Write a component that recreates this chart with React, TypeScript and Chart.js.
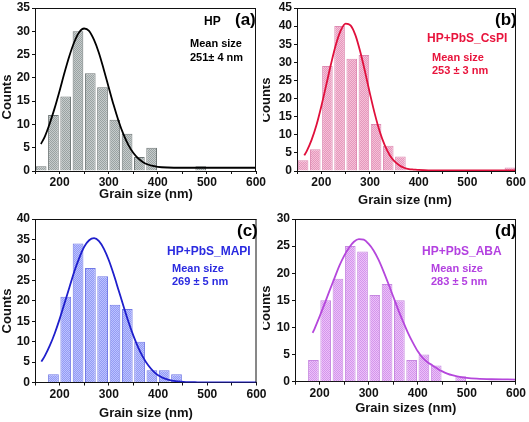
import React, { useEffect, useRef } from 'react';
import { Chart, registerables } from 'chart.js';
Chart.register(...registerables);

// ---------- data ----------
const binsA = [162.5, 187.5, 212.5, 237.5, 262.5, 287.5, 312.5, 337.5, 362.5, 387.5, 487.5];
const countsA = [1, 12, 16, 30, 21, 18, 11, 8, 3, 5, 1];
const fitXA = [162, 170, 180, 190, 200, 210, 220, 230, 240, 250, 260, 270, 280, 290, 300, 310, 320, 330, 340, 350, 360, 370, 380, 390, 400, 420, 450, 500, 550, 600];
const fitYA = [5.8, 7.4, 10.2, 13.5, 17.2, 21.1, 24.7, 27.7, 29.8, 30.6, 30.1, 28.2, 25.4, 21.8, 18.0, 14.2, 10.8, 7.9, 5.6, 3.9, 2.7, 1.9, 1.4, 1.1, 0.9, 0.75, 0.7, 0.7, 0.7, 0.7];

const binsB = [162.5, 187.5, 212.5, 237.5, 262.5, 287.5, 312.5, 337.5, 362.5, 587.5];
const countsB = [3, 6, 29, 40, 31, 32, 13, 7, 4, 1];
const fitXB = [165, 170, 180, 190, 200, 210, 220, 230, 240, 250, 260, 270, 280, 290, 300, 310, 320, 330, 340, 350, 360, 370, 380, 390, 400, 420, 450, 500, 550, 600];
const fitYB = [4.3, 5.5, 8.6, 12.7, 17.9, 23.7, 29.6, 34.9, 38.8, 40.7, 40.2, 37.5, 32.9, 27.3, 21.3, 15.7, 10.9, 7.2, 4.5, 2.7, 1.6, 0.9, 0.5, 0.4, 0.3, 0.2, 0.2, 0.2, 0.2, 0.2];

const binsC = [187.5, 212.5, 237.5, 262.5, 287.5, 312.5, 337.5, 362.5, 387.5, 412.5, 437.5];
const countsC = [2, 21, 34, 28, 26, 19, 18, 10, 3, 3, 2];
const fitXC = [163, 170, 180, 190, 200, 210, 220, 230, 240, 250, 260, 270, 280, 290, 300, 310, 320, 330, 340, 350, 360, 370, 380, 390, 400, 420, 440, 460, 480, 500, 550, 600];
const fitYC = [5.1, 6.5, 9.0, 12.0, 15.5, 19.4, 23.3, 27.2, 30.5, 33.2, 34.8, 35.3, 34.6, 32.7, 29.9, 26.4, 22.5, 18.6, 14.8, 11.4, 8.5, 6.1, 4.2, 2.8, 1.8, 0.7, 0.25, 0.1, 0.05, 0.02, 0, 0];

const binsD = [187.5, 212.5, 237.5, 262.5, 287.5, 312.5, 337.5, 362.5, 387.5, 412.5, 437.5, 487.5];
const countsD = [4, 15, 19, 25, 24, 16, 18, 15, 4, 5, 3, 1];
const fitXD = [186, 190, 200, 210, 220, 230, 240, 250, 260, 270, 280, 290, 300, 310, 320, 330, 340, 350, 360, 370, 380, 390, 400, 410, 420, 430, 440, 450, 460, 470, 480, 500, 520, 550, 600];
const fitYD = [9.0, 9.8, 12.0, 14.3, 16.7, 19.0, 21.3, 23.2, 24.7, 25.8, 26.3, 26.2, 25.4, 24.2, 22.5, 20.4, 18.1, 15.7, 13.3, 11.1, 9.0, 7.2, 5.6, 4.4, 3.6, 3.0, 2.4, 1.9, 1.5, 1.2, 1.0, 0.7, 0.55, 0.45, 0.4];

const xMin = 150;
const xMax = 600;
const xStep = 50;
const yStep = 5;

const FONT = "'Liberation Sans', Arial, Helvetica, sans-serif";

type Txt = { text: string; x: number; y: number; size: number; color: string };

type PanelCfg = {
  canvas: { left: number; top: number; w: number; h: number };
  area: { left: number; right: number; top: number; bottom: number };
  yMax: number;
  bins: number[];
  counts: number[];
  fitX: number[];
  fitY: number[];
  pat: [string, string];
  barBorder: string;
  curve: string;
  axis: string;
  xTitle: { text: string; x: number; y: number };
  yTitle: { x: number; y: number };
  texts: Txt[];
};

const panels: PanelCfg[] = [
  {
    canvas: { left: 0, top: 0, w: 270, h: 211 },
    area: { left: 35, right: 256, top: 7.5, bottom: 171 },
    yMax: 35,
    bins: binsA, counts: countsA, fitX: fitXA, fitY: fitYA,
    pat: ['#C6CCCC', '#9AA2A2'], barBorder: '#6E7676', curve: '#000000', axis: '#111111',
    xTitle: { text: 'Grain size (nm)', x: 146, y: 194 },
    yTitle: { x: 7, y: 97 },
    texts: [
      { text: 'HP', x: 204, y: 22, size: 12, color: '#000' },
      { text: '(a)', x: 235, y: 20, size: 17, color: '#000' },
      { text: 'Mean size', x: 190, y: 43.5, size: 11, color: '#000' },
      { text: '251\u00b1 4 nm', x: 190, y: 57.5, size: 11, color: '#000' },
    ],
  },
  {
    canvas: { left: 0, top: 211, w: 270, h: 211 },
    area: { left: 35, right: 256.5, top: 218.5, bottom: 382.5 },
    yMax: 40,
    bins: binsC, counts: countsC, fitX: fitXC, fitY: fitYC,
    pat: ['#BCC2FF', '#939BF4'], barBorder: '#7078E6', curve: '#1F1FCC', axis: '#111111',
    xTitle: { text: 'Grain size (nm)', x: 146, y: 413.5 },
    yTitle: { x: 7.5, y: 311 },
    texts: [
      { text: '(c)', x: 237, y: 231, size: 17, color: '#000' },
      { text: 'HP+PbS_MAPI', x: 167, y: 252, size: 12, color: '#2B2BE0' },
      { text: 'Mean size', x: 172, y: 269, size: 11, color: '#2B2BE0' },
      { text: '269 \u00b1 5 nm', x: 172, y: 282, size: 11, color: '#2B2BE0' },
    ],
  },
  {
    canvas: { left: 263, top: 0, w: 266, h: 211 },
    area: { left: 297, right: 517, top: 7.5, bottom: 171 },
    yMax: 45,
    bins: binsB, counts: countsB, fitX: fitXB, fitY: fitYB,
    pat: ['#F5C0D8', '#E598BC'], barBorder: '#DE8AB2', curve: '#E0103C', axis: '#111111',
    xTitle: { text: 'Grain size (nm)', x: 405, y: 200 },
    yTitle: { x: 266, y: 100 },
    texts: [
      { text: '(b)', x: 495, y: 20, size: 17, color: '#000' },
      { text: 'HP+PbS_CsPI', x: 427, y: 39, size: 12, color: '#E8143C' },
      { text: 'Mean size', x: 432, y: 58, size: 11, color: '#E8143C' },
      { text: '253 \u00b1 3 nm', x: 432, y: 71, size: 11, color: '#E8143C' },
    ],
  },
  {
    canvas: { left: 263, top: 211, w: 266, h: 211 },
    area: { left: 295, right: 517, top: 218.5, bottom: 381.7 },
    yMax: 30,
    bins: binsD, counts: countsD, fitX: fitXD, fitY: fitYD,
    pat: ['#ECC0F8', '#D396EC'], barBorder: '#C688E0', curve: '#B547DC', axis: '#111111',
    xTitle: { text: 'Grain sizes (nm)', x: 405.7, y: 408.5 },
    yTitle: { x: 266, y: 308 },
    texts: [
      { text: '(d)', x: 495, y: 231, size: 17, color: '#000' },
      { text: 'HP+PbS_ABA', x: 422, y: 252, size: 12, color: '#B341E0' },
      { text: 'Mean size', x: 431, y: 269, size: 11, color: '#B341E0' },
      { text: '283 \u00b1 5 nm', x: 431, y: 282, size: 11, color: '#B341E0' },
    ],
  },
];

function makePattern(c1: string, c2: string): CanvasPattern | string {
  const pc = document.createElement('canvas');
  pc.width = 2;
  pc.height = 2;
  const g = pc.getContext('2d');
  if (!g) return c1;
  g.fillStyle = c1;
  g.fillRect(0, 0, 2, 2);
  g.fillStyle = c2;
  g.fillRect(0, 0, 1, 1);
  g.fillRect(1, 1, 1, 1);
  const ctx = document.createElement('canvas').getContext('2d');
  const p = ctx ? ctx.createPattern(pc, 'repeat') : null;
  return p || c1;
}

function Panel({ cfg }: { cfg: PanelCfg }) {
  const ref = useRef<HTMLCanvasElement | null>(null);
  useEffect(() => {
    const cv = ref.current;
    if (!cv) return;
    const { canvas: c, area: a } = cfg;
    const yW = a.left - c.left;
    const xH = c.top + c.h - a.bottom;
    const decor = {
      id: 'decor',
      afterDraw(chart: any) {
        const ctx = chart.ctx;
        const ca = chart.chartArea;
        ctx.save();
        ctx.strokeStyle = cfg.axis;
        ctx.lineWidth = 1;
        ctx.beginPath();
        ctx.moveTo(ca.left, ca.top + 0.5);
        ctx.lineTo(ca.right, ca.top + 0.5);
        ctx.moveTo(ca.right - 0.5, ca.top);
        ctx.lineTo(ca.right - 0.5, ca.bottom);
        ctx.stroke();
        // axis titles
        ctx.fillStyle = '#111';
        ctx.font = `bold 13px ${FONT}`;
        ctx.textAlign = 'center';
        ctx.textBaseline = 'middle';
        ctx.fillText(cfg.xTitle.text, cfg.xTitle.x - c.left, cfg.xTitle.y - c.top);
        ctx.save();
        ctx.translate(cfg.yTitle.x - c.left, cfg.yTitle.y - c.top);
        ctx.rotate(-Math.PI / 2);
        ctx.fillText('Counts', 0, 0);
        ctx.restore();
        // annotations
        ctx.textAlign = 'left';
        for (const t of cfg.texts) {
          ctx.fillStyle = t.color;
          ctx.font = `bold ${t.size}px ${FONT}`;
          ctx.fillText(t.text, t.x - c.left, t.y - c.top);
        }
        ctx.restore();
      },
    };
    const tickFont = { family: FONT, size: 12, weight: 'bold' as const, lineHeight: 1 };
    const chart = new Chart(cv, {
      type: 'bar',
      data: {
        datasets: [
          {
            type: 'line' as const,
            data: cfg.fitX.map((x, i) => ({ x, y: cfg.fitY[i] })),
            borderColor: cfg.curve,
            borderWidth: 1.8,
            pointRadius: 0,
            cubicInterpolationMode: 'monotone' as const,
            fill: false,
            order: 0,
          },
          {
            type: 'bar' as const,
            data: cfg.bins.map((x, i) => ({ x, y: cfg.counts[i] })),
            backgroundColor: makePattern(cfg.pat[0], cfg.pat[1]) as any,
            borderColor: cfg.barBorder,
            borderWidth: 1,
            barPercentage: 0.87,
            categoryPercentage: 1,
            order: 1,
          },
        ] as any,
      },
      options: {
        responsive: false,
        animation: false,
        devicePixelRatio: 1,
        layout: {
          padding: { left: 0, top: a.top - c.top, right: c.left + c.w - a.right, bottom: 0 },
        },
        plugins: { legend: { display: false }, tooltip: { enabled: false } },
        scales: {
          x: {
            type: 'linear',
            min: xMin,
            max: xMax,
            offset: false,
            afterFit: (s: any) => { s.height = xH; },
            ticks: {
              stepSize: xStep,
              autoSkip: false,
              maxRotation: 0,
              padding: 3,
              color: '#111',
              font: tickFont,
              callback: (v: any) => (Number(v) % 100 === 0 ? String(v) : ''),
            },
            grid: { display: true, drawOnChartArea: false, drawTicks: true, tickLength: 3, color: cfg.axis, offset: false },
            border: { display: true, color: cfg.axis, width: 1 },
          },
          y: {
            min: 0,
            max: cfg.yMax,
            afterFit: (s: any) => { s.width = yW; },
            ticks: { stepSize: yStep, padding: 2, color: '#111', font: tickFont },
            grid: { display: true, drawOnChartArea: false, drawTicks: true, tickLength: 3, color: cfg.axis },
            border: { display: true, color: cfg.axis, width: 1 },
          },
        },
      } as any,
      plugins: [decor],
    });
    return () => chart.destroy();
  }, [cfg]);
  const c = cfg.canvas;
  return (
    <canvas
      ref={ref}
      width={c.w}
      height={c.h}
      style={{ position: 'absolute', left: c.left, top: c.top, width: c.w, height: c.h }}
    />
  );
}

export default function App() {
  return (
    <div style={{ position: 'fixed', left: 0, top: 0, width: 529, height: 422, background: '#fff', overflow: 'hidden' }}>
      {panels.map((p, i) => (
        <Panel key={i} cfg={p} />
      ))}
    </div>
  );
}
